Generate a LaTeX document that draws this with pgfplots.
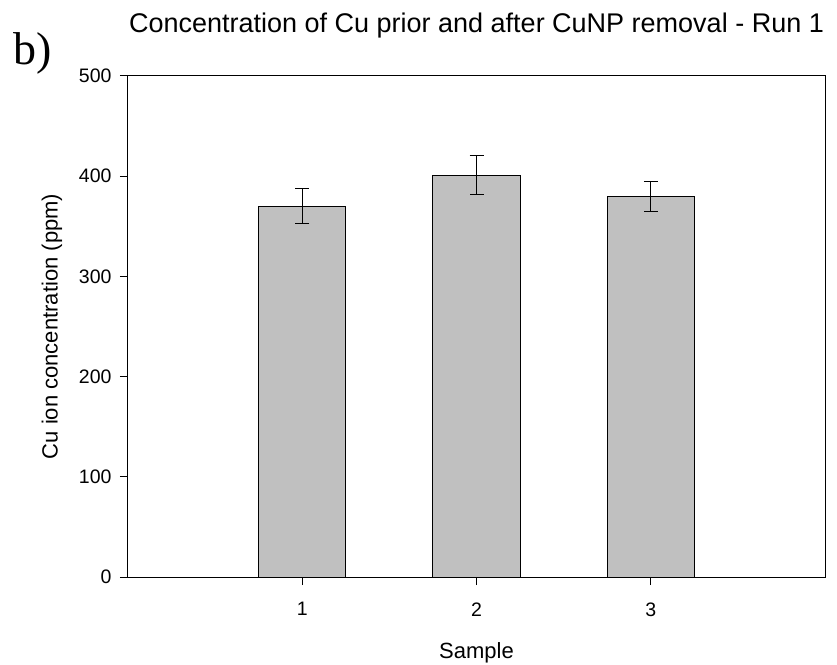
\documentclass[border=0pt]{standalone}
\usepackage{pgfplots}
\pgfplotsset{compat=1.18}
\usepackage{fontspec}
\setmainfont{Liberation Sans}
\newfontfamily\seriffont{Liberation Serif}
\definecolor{barfill}{RGB}{192,192,192}

\begin{document}
\begin{tikzpicture}
\useasboundingbox (-128pt,-87pt) rectangle (709pt,577pt);
\begin{axis}[
  at={(0pt,0pt)}, anchor=south west,
  scale only axis,
  width=697pt, height=501pt,
  xmin=0, xmax=4, ymin=0, ymax=500,
  xtick={1,2,3},
  ytick={0,100,...,500},
  tick pos=left,
  tick align=outside,
  major tick length=8pt,
  axis line style={line width=1pt},
  every tick/.style={black, line width=1pt},
  tick label style={font=\fontsize{19.5}{23}\selectfont},
  /pgf/number format/assume math mode=true,
  xticklabel style={yshift=-14pt},
  yticklabel style={xshift=-5pt},
  label style={font=\fontsize{22}{26}\selectfont},
  xlabel={Sample},
  ylabel={Cu ion concentration (ppm)},
  xlabel style={at={(axis description cs:0.5,0)}, anchor=base, yshift=-81pt},
  ylabel style={at={(axis description cs:0,0.5)}, anchor=center, yshift=76pt},
  title={Concentration of Cu prior and after CuNP removal - Run 1},
  title style={font=\fontsize{27}{32}\selectfont, at={(axis description cs:0.5,1)}, anchor=base, yshift=37pt},
  clip=false,
]
\addplot[
  ybar, bar width=0.5, fill=barfill, draw=black, line width=1pt,
  error bars/.cd, y dir=both, y explicit,
  error bar style={line width=1pt, black},
  error mark options={rotate=90, mark size=7pt, line width=1pt},
] table[x=x, y=y, y error=e] {
x y   e
1 370 17.5
2 401 19.5
3 380 15
};
\node[font=\seriffont\fontsize{46}{50}\selectfont, anchor=base west, inner sep=0pt]
  at ([xshift=-115pt,yshift=512pt]axis description cs:0,0) {b)};
\end{axis}
\end{tikzpicture}
\end{document}
